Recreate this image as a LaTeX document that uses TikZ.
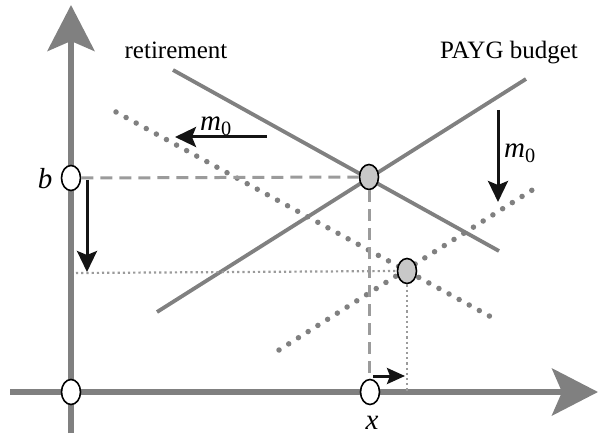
\documentclass[tikz,border=0pt]{standalone}
\usepackage{fontspec}
\setmainfont{Liberation Serif}
\usetikzlibrary{arrows.meta,shapes.geometric}
\definecolor{axisgray}{RGB}{128,128,128}
\definecolor{dashgray}{RGB}{155,155,155}
\definecolor{fillgray}{RGB}{200,200,200}
\definecolor{inkblack}{RGB}{20,20,20}
\begin{document}
\begin{tikzpicture}[x=1pt,y=-1pt,
  axis/.style={draw=axisgray,line width=6pt,-{Stealth[length=46pt,width=47pt,inset=10pt]}},
  solidline/.style={draw=axisgray,line width=3.8pt},
  dotline/.style={draw=axisgray,line width=5.5pt,line cap=round,dash pattern=on 0pt off 11.5pt},
  dashline/.style={draw=dashgray,line width=3pt,dash pattern=on 12pt off 7pt},
  thindot/.style={draw=dashgray,line width=2.2pt,dash pattern=on 2.2pt off 3pt},
  shiftarrow/.style={draw=inkblack,line width=3pt,-{Stealth[length=21pt,width=20pt,inset=4pt]}},
  pt/.style={ellipse,draw=black,line width=1.6pt,fill=white,minimum width=19pt,minimum height=25pt,inner sep=0pt},
  eq/.style={pt,fill=fillgray},
  lbl/.style={font=\fontsize{25}{30}\selectfont,inner sep=0pt},
  mlbl/.style={font=\fontsize{29}{34}\selectfont,inner sep=0pt}]
\useasboundingbox (0,0) rectangle (599,438);
% coordinates
\coordinate (ybot) at (71,433);
\coordinate (ytop) at (71,5);
\coordinate (xleft) at (10,392);
\coordinate (xright) at (598,392);
\coordinate (r1) at (173,70);
\coordinate (r2) at (499,251);
\coordinate (p1) at (157,312);
\coordinate (p2) at (526,79);
\coordinate (rd1) at (116,112);
\coordinate (rd2) at (493,318);
\coordinate (pd1) at (279,350);
\coordinate (pd2) at (537,187);
\coordinate (vd) at (369,375);
\coordinate (hd) at (76,273);
\coordinate (vd2) at (407,392);
% axes
\draw[axis] (ybot) -- (ytop);
\draw[axis] (xleft) -- (xright);
% lines
\draw[solidline] (r1) -- (r2);
\draw[solidline] (p1) -- (p2);
\draw[dotline] (rd1) -- (rd2);
\draw[dotline] (pd1) -- (pd2);
% nodes
\node[pt] (O) at (71,392) {};
\node[pt] (B) at (71,178) {};
\node[pt] (X) at (370,392) {};
\node[eq] (E1) at (369,177) {};
\node[eq] (E2) at (407,271) {};
% guides
\draw[dashline] (B.east) -- (E1.west);
\draw[dashline] (E1.south) -- (vd);
\draw[thindot] (hd) -- (E2.west);
\draw[thindot] (E2.south) -- (vd2);
% shift arrows
\coordinate (a1s) at (267,137);
\coordinate (a1e) at (175,137);
\coordinate (a2s) at (498,110);
\coordinate (a2e) at (498,202);
\coordinate (a3s) at (87,180);
\coordinate (a3e) at (87,272);
\coordinate (a4s) at (373,376);
\coordinate (a4e) at (405,376);
\draw[shiftarrow] (a1s) -- (a1e);
\draw[shiftarrow] (a2s) -- (a2e);
\draw[shiftarrow] (a3s) -- (a3e);
\draw[shiftarrow,-{Stealth[length=18pt,width=16pt,inset=3pt]}] (a4s) -- (a4e);
% labels
\node[lbl] (tret) at (176,50) {retirement};
\node[lbl] (tpayg) at (509,53) {PAYG budget};
\node[mlbl] (tm1) at (216,126) {\textit{m}\textsubscript{0}};
\node[mlbl] (tm2) at (520,153) {\textit{m}\textsubscript{0}};
\node[mlbl] (tb) at (45,179) {\textit{b}};
\node[mlbl] (tx) at (372,423) {\textit{x}};
\end{tikzpicture}
\end{document}
